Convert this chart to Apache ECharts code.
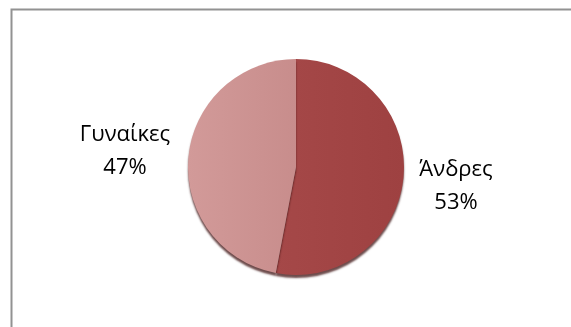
<!DOCTYPE html>
<html>
<head>
<meta charset="utf-8">
<script src="https://cdn.jsdelivr.net/npm/echarts@6/dist/echarts.min.js"></script>
<style>
html,body{margin:0;padding:0;background:#fff;}
#c{width:571px;height:327px;}
</style>
</head>
<body>
<div id="c"></div>
<script>
var categories = ['Άνδρες', 'Γυναίκες'];
var values = [53, 47];
var colors = [['#a54848', '#9e4141'], ['#d29a99', '#c88d8c']];
var labelPos = [[456, 186], [125, 151]];

var chart = echarts.init(document.getElementById('c'), null, {renderer: 'canvas'});
chart.setOption({
  animation: false,
  graphic: [{
    type: 'rect',
    shape: {x: 11.5, y: 9.5, width: 700, height: 500},
    style: {fill: 'none', stroke: '#929292', lineWidth: 2},
    silent: true
  }],
  series: [{
    type: 'pie',
    center: [296, 167],
    radius: 108,
    startAngle: 90,
    clockwise: true,
    data: categories.map(function (c, i) {
      return {
        name: c, value: values[i],
        itemStyle: {
          color: {type: 'linear', x: 0, y: 0, x2: 1, y2: 0,
            colorStops: [{offset: 0, color: colors[i][0]}, {offset: 1, color: colors[i][1]}]}
        }
      };
    }),
    itemStyle: {
      borderWidth: 0,
      shadowColor: 'rgba(60,15,15,0.75)',
      shadowBlur: 2,
      shadowOffsetY: 3
    },
    label: {
      show: true,
      position: 'outside',
      formatter: function (p) { return p.name + '\n' + Math.round(p.percent) + '%'; },
      fontFamily: 'Open Sans',
      fontSize: 22,
      lineHeight: 33,
      color: '#000',
      align: 'center'
    },
    labelLine: {show: false},
    labelLayout: function (p) {
      var pos = labelPos[p.dataIndex];
      return {x: pos[0], y: pos[1], align: 'center', verticalAlign: 'middle', hideOverlap: false};
    },
    emphasis: {disabled: true}
  }]
});
</script>
</body>
</html>
